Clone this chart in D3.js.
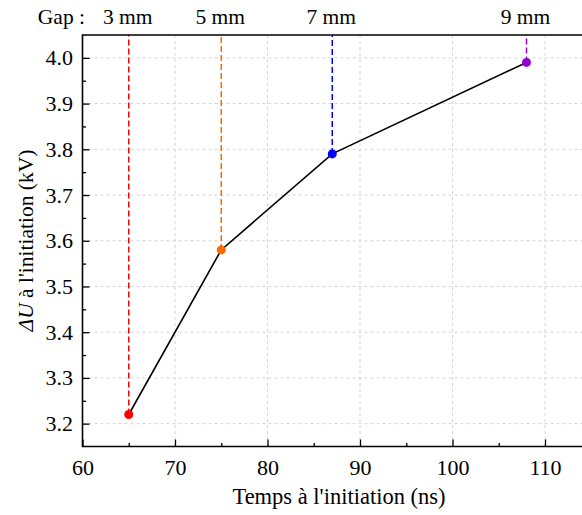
<!DOCTYPE html>
<html>
<head>
<meta charset="utf-8">
<script src="https://cdn.jsdelivr.net/npm/d3@7"></script>
<style>
  html, body { margin: 0; padding: 0; background: #fff; }
  svg { display: block; }
  svg text { font-family: "Liberation Serif", "Times New Roman", serif !important; fill: #000; }
</style>
</head>
<body>
<svg id="chart" width="582" height="515"></svg>
<script>
// ---- data ----
const times = [65, 75, 87, 108];                 // Temps à l'initiation (ns)
const voltages = [3.22, 3.58, 3.79, 3.99];        // ΔU à l'initiation (kV)
const gaps = ["3 mm", "5 mm", "7 mm", "9 mm"];
const pointColors = ["#ff0000", "#ff6a00", "#0000ff", "#9400d3"];
const xTicks = [60, 70, 80, 90, 100, 110];
const yTicks = [3.2, 3.3, 3.4, 3.5, 3.6, 3.7, 3.8, 3.9, 4.0];
const xMinorTicks = [65, 75, 85, 95, 105];
const yMinorTicks = [3.25, 3.35, 3.45, 3.55, 3.65, 3.75, 3.85, 3.95];

// ---- layout ----
const pL = 82.5, pR = 582, pT = 35, pB = 446.5;
const tickFont = "22px", gapFont = "21.5px";
const svg = d3.select("#chart");
const x = d3.scaleLinear().domain([60, 114]).range([pL, pR]);
const y = d3.scaleLinear().domain([3.15, 4.05]).range([pB, pT]);

// grid
const grid = svg.append("g");
grid.selectAll(".gx").data(xTicks.filter(d => d > 60)).join("line")
  .attr("x1", d => x(d)).attr("x2", d => x(d)).attr("y1", pT).attr("y2", pB)
  .attr("stroke", "#d4d4d4").attr("stroke-width", 1).attr("stroke-dasharray", "3,3");
grid.selectAll(".gy").data(yTicks).join("line")
  .attr("y1", d => y(d)).attr("y2", d => y(d)).attr("x1", pL).attr("x2", pR)
  .attr("stroke", "#d4d4d4").attr("stroke-width", 1).attr("stroke-dasharray", "3,3");

// dashed vertical markers from points to top
svg.append("g").selectAll("line").data(times).join("line")
  .attr("x1", d => x(d)).attr("x2", d => x(d))
  .attr("y1", (d, i) => y(voltages[i])).attr("y2", pT)
  .attr("stroke", (d, i) => pointColors[i]).attr("stroke-width", 1.5)
  .attr("stroke-dasharray", "6,3");

// line
const pts = times.map((t, i) => [t, voltages[i]]);
svg.append("path").datum(pts)
  .attr("d", d3.line().x(d => x(d[0])).y(d => y(d[1])))
  .attr("fill", "none").attr("stroke", "#000").attr("stroke-width", 1.6);

// points
svg.append("g").selectAll("circle").data(pts).join("circle")
  .attr("cx", d => x(d[0])).attr("cy", d => y(d[1])).attr("r", 4.5)
  .attr("fill", (d, i) => pointColors[i]);

// axes (inward ticks)
const xAxis = svg.append("g").attr("transform", `translate(0,${pB})`)
  .call(d3.axisBottom(x).tickValues(xTicks).tickSizeInner(-7).tickSizeOuter(0).tickPadding(12.5).tickFormat(d3.format("d")));
const xMinor = svg.append("g").attr("transform", `translate(0,${pB})`)
  .call(d3.axisBottom(x).tickValues(xMinorTicks).tickSizeInner(-3.5).tickSizeOuter(0).tickFormat(""));
const yAxis = svg.append("g").attr("transform", `translate(${pL},0)`)
  .call(d3.axisLeft(y).tickValues(yTicks).tickSizeInner(-7).tickSizeOuter(0).tickPadding(9.5).tickFormat(d3.format(".1f")));
const yMinor = svg.append("g").attr("transform", `translate(${pL},0)`)
  .call(d3.axisLeft(y).tickValues(yMinorTicks).tickSizeInner(-3.5).tickSizeOuter(0).tickFormat(""));
[xAxis, yAxis, xMinor, yMinor].forEach(g => {
  g.attr("font-family", null).attr("font-size", null);
  g.selectAll("path.domain").remove();
  g.selectAll("line").attr("stroke", "#000").attr("stroke-width", 1.3);
  g.selectAll("text").attr("fill", "#000").style("font-size", tickFont);
});
xAxis.selectAll("text").attr("dy", "0.71em");

// frame (left, bottom, top; right spine falls at the edge)
svg.append("path")
  .attr("d", `M${pR},${pT}H${pL}V${pB}H${pR}`)
  .attr("fill", "none").attr("stroke", "#000").attr("stroke-width", 1.6);

// top gap labels
svg.append("text").attr("x", 85).attr("y", 24).attr("text-anchor", "end")
  .style("font-size", gapFont).text("Gap :");
svg.append("g").selectAll("text").data(gaps).join("text")
  .attr("x", (d, i) => x(times[i]) - 1).attr("y", 24).attr("text-anchor", "middle")
  .style("font-size", gapFont).text(d => d);

// axis titles
svg.append("text").attr("x", 339).attr("y", 504).attr("text-anchor", "middle")
  .style("font-size", "22.5px").text("Temps à l'initiation (ns)");
const yl = svg.append("text").attr("transform", "translate(33,240.5) rotate(-90)")
  .attr("text-anchor", "middle").style("font-size", "21.5px");
yl.append("tspan").style("font-style", "italic").text("ΔU");
yl.append("tspan").text(" à l'initiation (kV)");
</script>
</body>
</html>
